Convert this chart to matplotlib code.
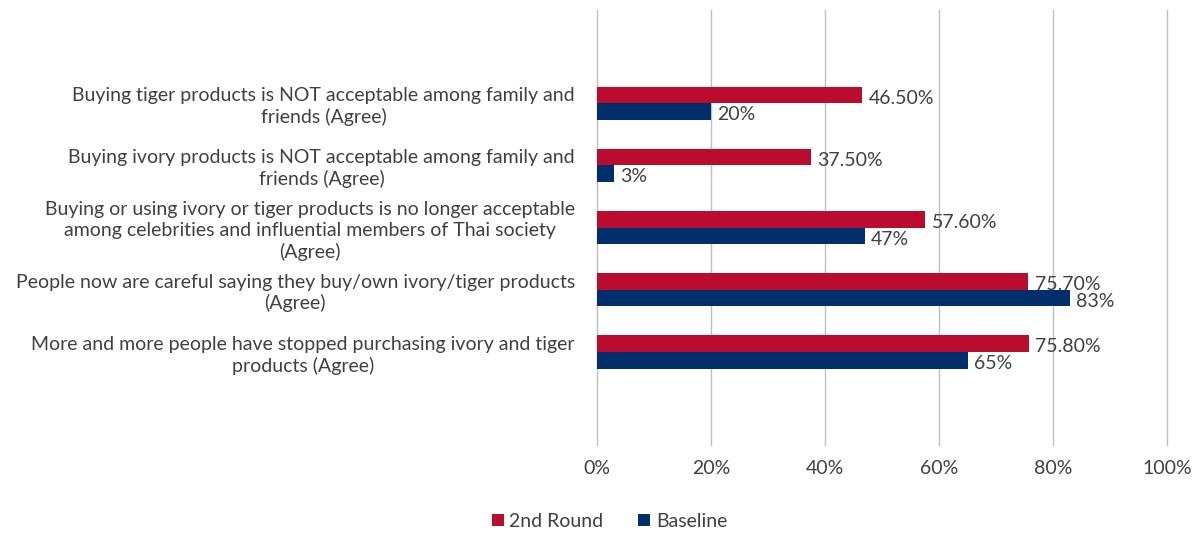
import matplotlib.pyplot as plt
import numpy as np

categories = [
    "Buying tiger products is NOT acceptable among family and\nfriends (Agree)",
    "Buying ivory products is NOT acceptable among family and\nfriends (Agree)",
    "Buying or using ivory or tiger products is no longer acceptable\namong celebrities and influential members of Thai society\n(Agree)",
    "People now are careful saying they buy/own ivory/tiger products\n(Agree)",
    "More and more people have stopped purchasing ivory and tiger\nproducts (Agree)",
]
round2 = [46.5, 37.5, 57.6, 75.7, 75.8]
baseline = [20, 3, 47, 83, 65]
round2_labels = ["46.50%", "37.50%", "57.60%", "75.70%", "75.80%"]
baseline_labels = ["20%", "3%", "47%", "83%", "65%"]
xticks = [0, 20, 40, 60, 80, 100]

red = "#BA0C2F"
navy = "#002F6C"
text_color = "#404040"

plt.rcParams['font.family'] = ['Lato', 'DejaVu Sans']

fig = plt.figure(figsize=(12, 5.34), dpi=100)
ax = fig.add_axes([0.4975, 0.1667, 0.475, 0.8143])

y = np.arange(len(categories))
h = 0.27
ax.barh(y - h / 2, round2, height=h, color=red, label="2nd Round", zorder=2)
ax.barh(y + h / 2, baseline, height=h, color=navy, label="Baseline", zorder=2)

for yi, v, s in zip(y, round2, round2_labels):
    ax.text(v + 1.1, yi - h / 2 + 0.05, s, va="center", ha="left", fontsize=14, color=text_color)
for yi, v, s in zip(y, baseline, baseline_labels):
    ax.text(v + 1.1, yi + h / 2 + 0.05, s, va="center", ha="left", fontsize=14, color=text_color)

ax.set_xlim(0, 100)
ax.set_ylim(len(categories) - 1 + 1.5, -1.5)
ax.set_xticks(xticks)
ax.set_xticklabels([f"{t}%" for t in xticks], fontsize=14, color=text_color)
ax.set_yticks(y)
ax.set_yticklabels(categories, fontsize=14, color=text_color, multialignment="center",
                   linespacing=1.25)
ax.tick_params(axis="both", length=0)
ax.tick_params(axis="x", pad=11)
ax.tick_params(axis="y", pad=16)
ax.grid(axis="x", color="#BFBFBF", linewidth=1, zorder=0)
for gl in ax.get_xgridlines():
    gl.set_clip_on(False)
for sp in ax.spines.values():
    sp.set_visible(False)

fig.legend(loc="center", bbox_to_anchor=(0.508, 0.024), ncol=2, frameon=False,
           fontsize=14, labelcolor=text_color, handlelength=0.6, handleheight=0.6,
           handletextpad=0.3, columnspacing=1.8)

fig.savefig("out.png", dpi=100)
